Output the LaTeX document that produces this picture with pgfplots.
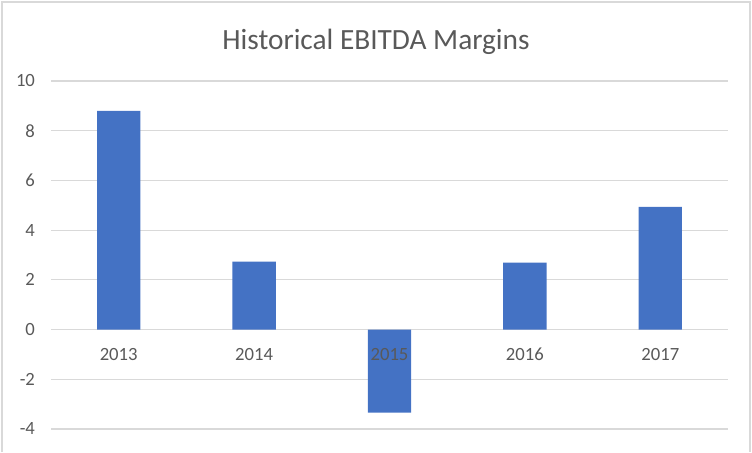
\documentclass[border=0pt]{standalone}
\usepackage{pgfplots}
\pgfplotsset{compat=1.18}
\usepackage{fontspec}
\setmainfont{Carlito}
\definecolor{barblue}{HTML}{4472C4}
\definecolor{txtgrey}{HTML}{595959}
\definecolor{gridgrey}{HTML}{D9D9D9}
\begin{document}
\begin{tikzpicture}
\begin{axis}[
  set layers=standard,
  scale only axis,
  width=507.75pt, height=261pt,
  xmin=-0.5, xmax=4.5,
  ymin=-4, ymax=10,
  ytick={-4,-2,0,2,4,6,8,10},
  xtick={0,1,2,3,4},
  xticklabels={2013,2014,2015,2016,2017},
  axis line style={draw=none},
  major tick length=0pt,
  ymajorgrids,
  grid style={draw=gridgrey, line width=0.9pt},
  tick label style={font=\fontsize{14}{16}\selectfont, text=txtgrey},
  /pgf/number format/assume math mode=true,
  yticklabel style={anchor=east, xshift=-8.5pt},
  xticklabel style={anchor=base, yshift=51.75pt, /pgfplots/on layer=axis foreground},
  clip=false,
]
\addplot[ybar, bar width=32.5pt, fill=barblue, draw=none] coordinates {
  (0,8.8) (1,2.73) (2,-3.34) (3,2.69) (4,4.94)
};
\end{axis}
\path (-38.25pt,-17.25pt) rectangle (525.75pt,321.75pt);
\draw[gridgrey, line width=1.2pt] (-36.75pt,-17.25pt) -- (-36.75pt,320.25pt) -- (524.25pt,320.25pt) -- (524.25pt,-17.25pt);
\node[font=\fontsize{22}{26}\selectfont, text=txtgrey] at (243.75pt,290.25pt) {Historical EBITDA Margins};
\end{tikzpicture}
\end{document}
